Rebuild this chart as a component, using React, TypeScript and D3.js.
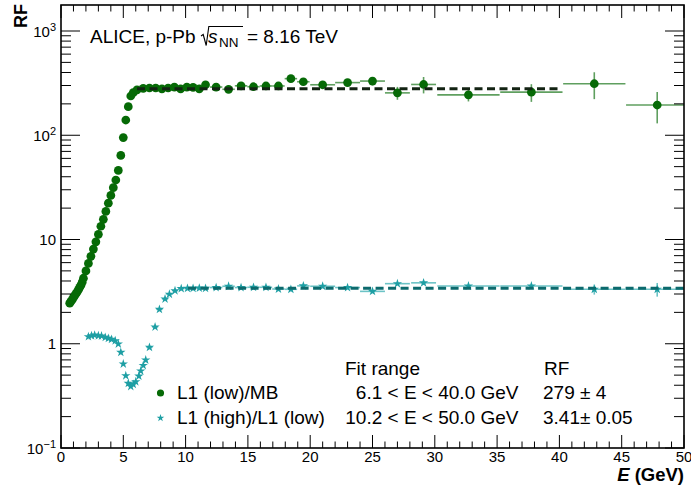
import React, { useEffect, useRef } from "react";
import * as d3 from "d3";

// L1 (low)/MB
const lowE = [
  0.7, 0.8, 0.9, 1.0, 1.1, 1.2, 1.3, 1.4, 1.5, 1.6, 1.7,
  1.8, 2.0, 2.2, 2.4, 2.6, 2.8, 3.0, 3.2, 3.4, 3.6, 3.8, 4.0, 4.2, 4.4, 4.6, 4.8, 5.0, 5.2, 5.4, 5.6, 5.8,
  6.1, 6.6, 7.1, 7.6, 8.1, 8.6, 9.1, 9.6, 10.1, 10.6, 11.1, 11.6,
  12.45, 13.45, 14.45, 15.45, 16.45, 17.45, 18.45, 19.45,
  21, 23, 25, 27, 29.1,
  32.7, 37.75, 42.8, 47.85,
];
const lowRF = [
  2.45, 2.55, 2.65, 2.78, 2.9, 3.02, 3.15, 3.3, 3.48, 3.65, 3.9,
  4.25, 5.0, 5.9, 6.9, 8.1, 9.5, 11.2, 13.4, 15.6, 18.6, 22.3, 26.5, 31.4, 37.2, 46, 64, 95, 140, 188, 238, 256,
  272, 282, 284, 284, 279, 284, 290, 278, 290, 288, 279, 305,
  290, 276, 298, 292, 297, 297, 349, 326,
  305, 320, 331, 255, 307,
  244, 259, 312, 195,
];
const lowEx = [
  0.05, 0.05, 0.05, 0.05, 0.05, 0.05, 0.05, 0.05, 0.05, 0.05, 0.05,
  0.1, 0.1, 0.1, 0.1, 0.1, 0.1, 0.1, 0.1, 0.1, 0.1, 0.1, 0.1, 0.1, 0.1, 0.1, 0.1, 0.1, 0.1, 0.1, 0.1, 0.1,
  0.25, 0.25, 0.25, 0.25, 0.25, 0.25, 0.25, 0.25, 0.25, 0.25, 0.25, 0.25,
  0.5, 0.5, 0.5, 0.5, 0.5, 0.5, 0.5, 0.5,
  1, 1, 1, 1, 1,
  2.5, 2.5, 2.5, 2.5,
];
const lowErr = [
  0.04, 0.04, 0.04, 0.04, 0.05, 0.05, 0.05, 0.05, 0.05, 0.06, 0.06,
  0.07, 0.08, 0.09, 0.1, 0.12, 0.14, 0.16, 0.2, 0.23, 0.27, 0.33, 0.4, 0.5, 0.6, 0.7, 1, 1.4, 2, 3, 4, 4,
  5, 5, 5, 5, 5, 5, 5, 5, 6, 6, 6, 7,
  8, 8, 9, 9, 10, 11, 14, 16,
  12, 18, 30, 36, 55,
  33, 50, 90, 65,
];

// L1 (high)/L1 (low)
const highE = [
  2.2, 2.45, 2.7, 3.0, 3.25, 3.55, 3.8, 4.05, 4.35, 4.6, 4.8, 5.0, 5.2, 5.4, 5.6, 5.8, 6.0, 6.25, 6.4, 6.6,
  6.8, 7.1, 7.55, 7.9, 8.35, 8.7, 9.15, 9.65, 10.15, 10.6, 11.1, 11.6,
  12.45, 13.45, 14.45, 15.45, 16.45, 17.45, 18.45, 19.45,
  21, 23, 25, 27, 29.1,
  32.7, 37.75, 42.8, 47.85,
];
const highRF = [
  1.17, 1.195, 1.21, 1.195, 1.187, 1.153, 1.128, 1.103, 1.07, 0.995, 0.828, 0.64, 0.494, 0.4175, 0.389, 0.408, 0.4325, 0.49, 0.548, 0.619,
  0.698, 0.925, 1.45, 2.14, 2.69, 2.99, 3.23, 3.38, 3.4, 3.4, 3.42, 3.4,
  3.46, 3.56, 3.46, 3.48, 3.48, 3.35, 3.33, 3.59,
  3.56, 3.46, 3.18, 3.77, 3.84,
  3.58, 3.58, 3.33, 3.33,
];
const highEx = [
  0.1, 0.1, 0.1, 0.1, 0.1, 0.1, 0.1, 0.1, 0.1, 0.1, 0.1, 0.1, 0.1, 0.1, 0.1, 0.1, 0.1, 0.1, 0.1, 0.1,
  0.1, 0.25, 0.25, 0.25, 0.25, 0.25, 0.25, 0.25, 0.25, 0.25, 0.25, 0.25,
  0.5, 0.5, 0.5, 0.5, 0.5, 0.5, 0.5, 0.5,
  1, 1, 1, 1, 1,
  2.5, 2.5, 2.5, 2.5,
];
const highErr = [
  0.015, 0.015, 0.015, 0.015, 0.015, 0.015, 0.015, 0.015, 0.015, 0.015, 0.012, 0.01, 0.01, 0.01, 0.01, 0.01, 0.01, 0.01, 0.012, 0.012,
  0.015, 0.02, 0.03, 0.04, 0.04, 0.04, 0.04, 0.04, 0.04, 0.04, 0.04, 0.04,
  0.05, 0.05, 0.06, 0.06, 0.07, 0.07, 0.08, 0.09,
  0.07, 0.08, 0.09, 0.1, 0.12,
  0.1, 0.12, 0.37, 0.5,
];

// Fits
const fitLow = [6.1, 10.2];
const fitHigh = [40, 50];
const fitRF = [279, 3.41];

// Legend
const legendLabels = ["L1 (low)/MB", "L1 (high)/L1 (low)"];
const legendRanges = ["6.1 < E < 40.0 GeV", "10.2 < E < 50.0 GeV"];
const legendRF = ["279 ± 4", "3.41± 0.05"];

// Axis ticks
const xTicks = [0, 5, 10, 15, 20, 25, 30, 35, 40, 45, 50];
const yTicks = [0.1, 1, 10, 100, 1000];
const yTickBase = ["10", "1", "10", "10", "10"];
const yTickExp = ["−1", "", "", "2", "3"];

const FONT = "'Liberation Sans', Arial, Helvetica, sans-serif";
const GREEN = "#066a06";
const GREEN_ERR = "#5f9f5f";
const CYAN = "#1e9fa4";
const CYAN_ERR = "#6cc3c6";

const App: React.FC = () => {
  const svgRef = useRef<SVGSVGElement>(null);

  useEffect(() => {
    const svg = d3.select(svgRef.current);
    svg.selectAll("*").remove();

    const x0 = 61, x1 = 684, yTop = 5, yBot = 448;
    const x = d3.scaleLinear().domain([0, 50]).range([x0, x1]);
    const y = d3.scaleLog().domain([0.1, 1776]).range([yBot, yTop]);

    svg
      .append("defs")
      .append("clipPath")
      .attr("id", "frame")
      .append("rect")
      .attr("x", x0)
      .attr("y", yTop)
      .attr("width", x1 - x0)
      .attr("height", yBot - yTop);

    const plot = svg.append("g").attr("clip-path", "url(#frame)");

    const circle = d3.symbol(d3.symbolCircle).size(60)();
    const star = d3.symbol(d3.symbolStar).size(27)();

    const drawSeries = (
      E: number[], RF: number[], ex: number[], ey: number[],
      color: string, errColor: string, marker: string | null
    ) => {
      const g = plot.append("g");
      E.forEach((e, i) => {
        g.append("line")
          .attr("x1", x(e - ex[i])).attr("x2", x(e + ex[i]))
          .attr("y1", y(RF[i])).attr("y2", y(RF[i]))
          .attr("stroke", errColor).attr("stroke-width", 1.6);
        g.append("line")
          .attr("x1", x(e)).attr("x2", x(e))
          .attr("y1", y(RF[i] - ey[i])).attr("y2", y(RF[i] + ey[i]))
          .attr("stroke", errColor).attr("stroke-width", 1.6);
      });
      g.selectAll("path.m")
        .data(E)
        .enter()
        .append("path")
        .attr("d", marker)
        .attr("transform", (d, i) => `translate(${x(d)},${y(RF[i])})`)
        .attr("fill", color);
    };

    drawSeries(lowE, lowRF, lowEx, lowErr, GREEN, GREEN_ERR, circle);
    drawSeries(highE, highRF, highEx, highErr, CYAN, CYAN_ERR, star);

    // fit lines
    const fitColors = ["#132313", "#0c6a6d"];
    fitRF.forEach((v, i) => {
      plot.append("line")
        .attr("x1", x(fitLow[i])).attr("x2", x(fitHigh[i]))
        .attr("y1", y(v)).attr("y2", y(v))
        .attr("stroke", fitColors[i])
        .attr("stroke-width", 3)
        .attr("stroke-dasharray", "8,4.5");
    });

    // axes ticks
    const ax = svg.append("g").attr("stroke", "#000").attr("stroke-width", 1);
    d3.range(0, 51, 1).forEach((t) => {
      const major = t % 5 === 0;
      const len = major ? 13 : 6.5;
      ax.append("line").attr("x1", x(t)).attr("x2", x(t)).attr("y1", yBot).attr("y2", yBot - len);
      ax.append("line").attr("x1", x(t)).attr("x2", x(t)).attr("y1", yTop).attr("y2", yTop + len);
    });
    const yMinor: number[] = [];
    [-1, 0, 1, 2, 3].forEach((p) => {
      for (let m = 2; m <= 9; m++) {
        const v = m * Math.pow(10, p);
        if (v < 1776) yMinor.push(v);
      }
    });
    yTicks.forEach((t) => {
      ax.append("line").attr("x1", x0).attr("x2", x0 + 19).attr("y1", y(t)).attr("y2", y(t));
      ax.append("line").attr("x1", x1).attr("x2", x1 - 19).attr("y1", y(t)).attr("y2", y(t));
    });
    yMinor.forEach((t) => {
      ax.append("line").attr("x1", x0).attr("x2", x0 + 10).attr("y1", y(t)).attr("y2", y(t));
      ax.append("line").attr("x1", x1).attr("x2", x1 - 10).attr("y1", y(t)).attr("y2", y(t));
    });

    svg.append("rect")
      .attr("x", x0).attr("y", yTop)
      .attr("width", x1 - x0).attr("height", yBot - yTop)
      .attr("fill", "none").attr("stroke", "#000").attr("stroke-width", 1.6);

    // tick labels
    xTicks.forEach((t) => {
      svg.append("text")
        .attr("x", x(t)).attr("y", 462)
        .attr("text-anchor", "middle")
        .style("font-family", FONT).style("font-size", "15px")
        .text(t);
    });
    yTicks.forEach((t, i) => {
      const txt = svg.append("text")
        .attr("x", 56).attr("y", y(t) + 5.5)
        .attr("text-anchor", "end")
        .style("font-family", FONT).style("font-size", "15px");
      txt.append("tspan").text(yTickBase[i]);
      if (yTickExp[i]) {
        txt.append("tspan").attr("dy", -6).style("font-size", "11px").text(yTickExp[i]);
      }
    });

    // axis titles
    svg.append("text")
      .attr("transform", "translate(27,4) rotate(-90)")
      .attr("text-anchor", "end")
      .style("font-family", FONT).style("font-size", "18px").style("font-weight", "bold")
      .text("RF");
    const xt = svg.append("text")
      .attr("x", x1).attr("y", 481)
      .attr("text-anchor", "end")
      .style("font-family", FONT).style("font-size", "18.5px").style("font-weight", "bold");
    xt.append("tspan").style("font-style", "italic").text("E");
    xt.append("tspan").text(" (GeV)");

    // header text
    const tf = (sel: any, size: number) => sel.style("font-family", FONT).style("font-size", `${size}px`);
    tf(svg.append("text").attr("x", 90).attr("y", 42.5), 19).text("ALICE, p-Pb");
    svg.append("path")
      .attr("d", "M201,36 L203.2,34.5 L206.2,45.5 L208.8,26.5 L243,26.5")
      .attr("fill", "none").attr("stroke", "#000").attr("stroke-width", 1.1);
    tf(svg.append("text").attr("x", 208), 19).attr("y", 42.5).style("font-style", "italic").text("s");
    tf(svg.append("text").attr("x", 219).attr("y", 47), 13.5).text("NN");
    tf(svg.append("text").attr("x", 247).attr("y", 42.5), 19).text("= 8.16 TeV");

    // legend
    tf(svg.append("text").attr("x", 345).attr("y", 375), 19).text("Fit range");
    tf(svg.append("text").attr("x", 544).attr("y", 375), 19).text("RF");
    const rowY = [399, 424];
    const legendMarkers = [
      d3.symbol(d3.symbolCircle).size(40)(),
      d3.symbol(d3.symbolStar).size(18)(),
    ];
    const legendColors = [GREEN, CYAN];
    legendLabels.forEach((lab, i) => {
      svg.append("path")
        .attr("d", legendMarkers[i])
        .attr("transform", `translate(160.5,${rowY[i] - 6})`)
        .attr("fill", legendColors[i]);
      tf(svg.append("text").attr("x", 177).attr("y", rowY[i]), 19).text(lab);
      tf(svg.append("text").attr("x", 518.5).attr("y", rowY[i]).attr("text-anchor", "end"), 19).text(legendRanges[i]);
      tf(svg.append("text").attr("x", 543).attr("y", rowY[i]), 19).text(legendRF[i]);
    });
  }, []);

  return (
    <div style={{ position: "absolute", left: 0, top: 0, background: "#fff" }}>
      <svg ref={svgRef} width={691} height={486} style={{ display: "block" }}></svg>
    </div>
  );
};

export default App;
